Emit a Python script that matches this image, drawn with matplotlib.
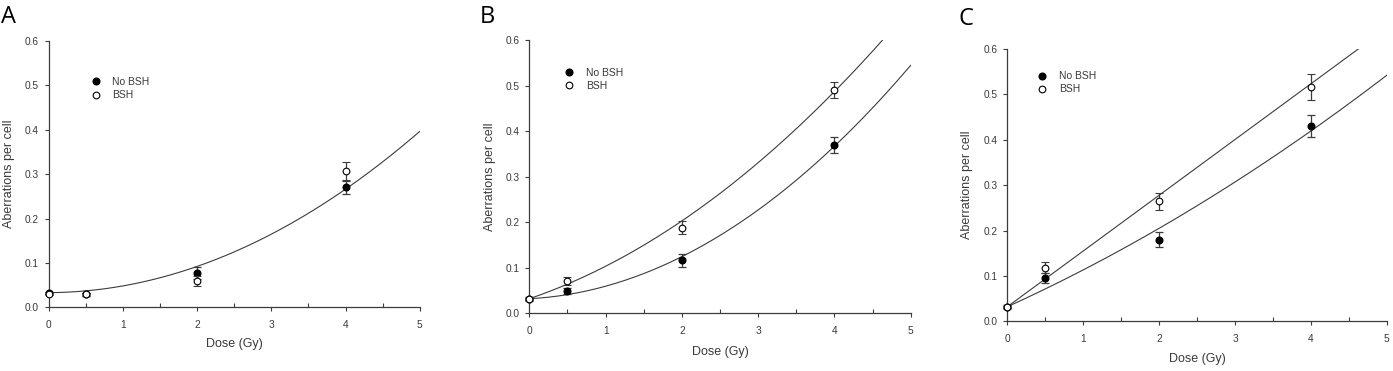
import numpy as np
import matplotlib
matplotlib.use("Agg")
import matplotlib.pyplot as plt
from matplotlib.lines import Line2D
from matplotlib.ticker import MultipleLocator, FormatStrFormatter

# ---- data ----
dose = [0, 0.5, 2, 4]

a_nobsh = [0.032, 0.029, 0.077, 0.270]
a_nobsh_err = [0.003, 0.003, 0.014, 0.015]
a_bsh = [0.031, 0.029, 0.059, 0.307]
a_bsh_err = [0.003, 0.004, 0.012, 0.021]

b_nobsh = [0.032, 0.049, 0.116, 0.370]
b_nobsh_err = [0.003, 0.006, 0.015, 0.017]
b_bsh = [0.031, 0.071, 0.188, 0.490]
b_bsh_err = [0.003, 0.009, 0.015, 0.018]

c_nobsh = [0.032, 0.096, 0.180, 0.430]
c_nobsh_err = [0.003, 0.011, 0.016, 0.025]
c_bsh = [0.031, 0.118, 0.264, 0.516]
c_bsh_err = [0.003, 0.012, 0.019, 0.028]

# linear-quadratic fit parameters (c, alpha, beta) and dose range of each fitted curve
a_fit = [(0.033, 0.0008, 0.01437, 5.0)]
b_fit = [(0.032, 0.0571, 0.01415, 4.633), (0.032, 0.00868, 0.01876, 5.0)]
c_fit = [(0.032, 0.1228, 0.0, 4.64), (0.032, 0.0760, 0.00520, 5.0)]

panel_letters = ["A", "B", "C"]
legend_labels = ["No BSH", "BSH"]
xticks = [0, 1, 2, 3, 4, 5]
yticks = [0.0, 0.1, 0.2, 0.3, 0.4, 0.5, 0.6]

plt.rcParams['font.family'] = ['Liberation Sans', 'DejaVu Sans']

fig = plt.figure(figsize=(13.93, 3.71), dpi=100)
W, H = 1393, 371

def axrect(x0, x1, ytop, ybot):
    return [x0 / W, 1 - ybot / H, (x1 - x0) / W, (ybot - ytop) / H]

rects = [axrect(48.7, 419.7, 41, 307.3),
         axrect(529.3, 910.7, 40, 313.3),
         axrect(1007.3, 1386.7, 49, 321.3)]
leg_anchor = [(0.113, 0.821), (0.091, 0.8555), (0.079, 0.8755)]
letter_pos = [(1, 5), (480, 5), (959, 7)]
ylab_x = [9, 490, 967]
xlab_y = [344, 352, 359]

series = [(a_nobsh, a_nobsh_err, a_bsh, a_bsh_err, a_fit),
          (b_nobsh, b_nobsh_err, b_bsh, b_bsh_err, b_fit),
          (c_nobsh, c_nobsh_err, c_bsh, c_bsh_err, c_fit)]

txtc = '#3a3a3a'
linec = '#3c3c3c'

for i, (rect, (n, ne, b, be, fits)) in enumerate(zip(rects, series)):
    ax = fig.add_axes(rect)
    ax.set_xlim(0, 5)
    ax.set_ylim(0, 0.6)
    for sp in ['top', 'right']:
        ax.spines[sp].set_visible(False)
    for sp in ['left', 'bottom']:
        ax.spines[sp].set_linewidth(0.9)
        ax.spines[sp].set_color(linec)
    ax.set_xticks(xticks)
    ax.set_yticks(yticks)
    ax.yaxis.set_major_formatter(FormatStrFormatter('%.1f'))
    ax.xaxis.set_minor_locator(MultipleLocator(0.5))
    ax.tick_params(axis='both', which='major', direction='out', length=3, width=0.8,
                   color=linec, labelsize=7.3, labelcolor=txtc, pad=4)
    ax.tick_params(axis='x', which='major', pad=6)
    ax.tick_params(axis='x', which='minor', direction='in', length=3, width=0.8, color=linec)

    for (c0, al, be_, xmax) in fits:
        xx = np.linspace(0, xmax, 200)
        ax.plot(xx, c0 + al * xx + be_ * xx ** 2, color=linec, lw=0.8, zorder=2)

    ax.errorbar(dose, n, yerr=ne, fmt='o', ms=4.8, mfc='black', mec='black',
                ecolor=linec, elinewidth=0.9, capsize=3.2, capthick=0.9, zorder=4, clip_on=False)
    ax.errorbar(dose, b, yerr=be, fmt='o', ms=4.8, mfc='white', mec='black', mew=0.8,
                ecolor=linec, elinewidth=0.9, capsize=3.2, capthick=0.9, zorder=5, clip_on=False)

    handles = [Line2D([], [], ls='none', marker='o', ms=4.8, mfc='black', mec='black'),
               Line2D([], [], ls='none', marker='o', ms=4.8, mfc='white', mec='black', mew=0.8)]
    ax.legend(handles, legend_labels, loc='center left', bbox_to_anchor=leg_anchor[i],
              frameon=False, fontsize=7.5, handlelength=1.0, handletextpad=1.1,
              labelspacing=0.3, borderpad=0, borderaxespad=0, labelcolor=txtc)

    fig.text(ylab_x[i] / W, (rect[1] + rect[3] / 2), 'Aberrations per cell', rotation=90,
             ha='center', va='center', fontsize=9, color=txtc)
    fig.text((rect[0] + rect[2] / 2), 1 - xlab_y[i] / H, 'Dose (Gy)',
             ha='center', va='center', fontsize=9, color=txtc)
    fig.text(letter_pos[i][0] / W, 1 - letter_pos[i][1] / H, panel_letters[i],
             ha='left', va='top', fontsize=17, family=['Open Sans', 'DejaVu Sans'], color='black')

fig.savefig('out.png', dpi=100, facecolor='white')
